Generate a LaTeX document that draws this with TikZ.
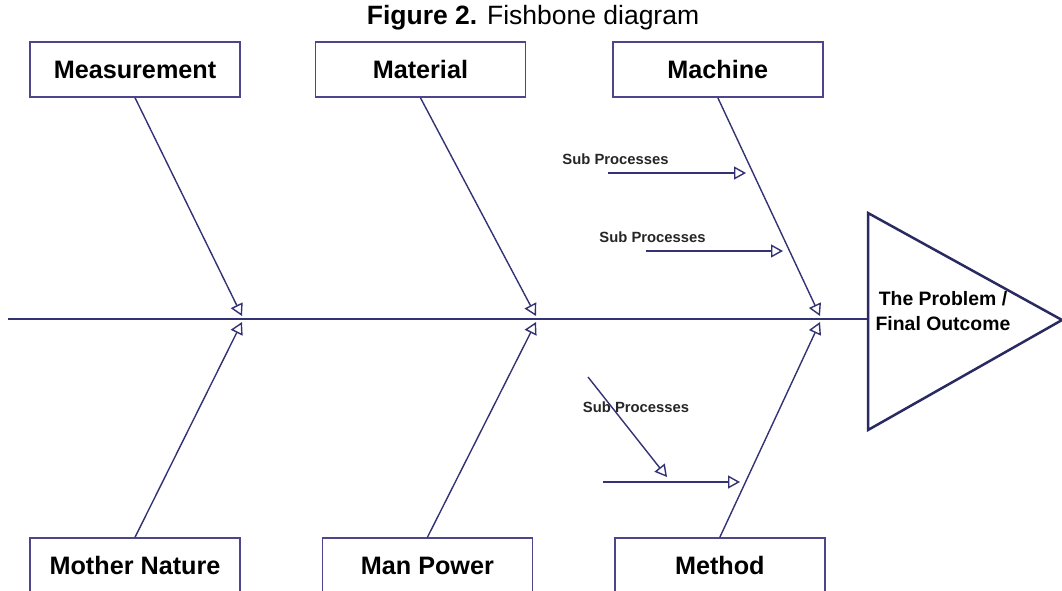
\documentclass[tikz,border=0pt]{standalone}
\usepackage{fontspec}
\setmainfont{Liberation Sans}
\usetikzlibrary{arrows.meta,positioning}
\definecolor{bone}{RGB}{50,50,116}
\definecolor{boxline}{RGB}{78,70,140}
\tikzstyle{line} = [draw=bone, line width=1.4pt, -{Triangle[open,length=12pt,width=13pt,line width=1.4pt]}]
\tikzstyle{spine} = [draw=bone, line width=1.6pt]
\tikzstyle{cause} = [rectangle, draw=boxline, line width=1.4pt, minimum width=210pt, minimum height=55pt, text centered, font=\fontsize{25.2}{25}\selectfont\bfseries]
\tikzstyle{sub} = [text=black!85, font=\fontsize{14.8}{15}\selectfont\bfseries]
\tikzstyle{effect} = [draw=bone!85!black, line width=2.5pt, line join=miter]

\begin{document}
\begin{tikzpicture}[x=1pt, y=-1pt]
			\useasboundingbox (0,0) rectangle (1062,590);
			\node [font=\fontsize{26.5}{26}\selectfont] (title) at (533,18) {\textbf{Figure 2.} Fishbone diagram};
			
			\node [cause] (measure) at (135,69.5) {Measurement};
			\node [cause, right=74pt of measure] (material) {Material};
			\node [cause, right=86pt of material] (machine) {Machine};
			\node [cause] (nature) at (135,565.5) {Mother Nature};
			\node [cause, right=81pt of nature] (manpower) {Man Power};
			\node [cause, right=81pt of manpower] (method) {Method};
			
			\coordinate (tail) at (8,319);
			\coordinate (head) at (868,319);
			\coordinate (top) at (868,213);
			\coordinate (tip) at (1062,320);
			\coordinate (bottom) at (868,430);
			\path [spine] (tail) -- (head);
			\path [effect] (top) -- (tip) -- (bottom) -- cycle;
			\node [align=center, font=\fontsize{19.4}{25}\selectfont\bfseries] (problem) at (943,311.5) {The Problem /\\Final Outcome};
			
			\coordinate (e1) at (242,316);
			\coordinate (e2) at (536,316);
			\coordinate (e3) at (820,316);
			\coordinate (f1) at (242,322);
			\coordinate (f2) at (536,322);
			\coordinate (f3) at (820,322);
			\path [line] (measure.south) -- (e1);
			\path [line] (material.south) -- (e2);
			\path [line] (machine.south) -- (e3);
			\path [line] (nature.north) -- (f1);
			\path [line] (manpower.north) -- (f2);
			\path [line] (method.north) -- (f3);
			
			\node [sub] (sp1) at (615.5,159) {Sub Processes};
			\coordinate (sp1s) at (608,173);
			\coordinate (sp1e) at (746,173);
			\path [line] (sp1s) -- (sp1e);
			\node [sub] (sp2) at (652.5,237) {Sub Processes};
			\coordinate (sp2s) at (646,251);
			\coordinate (sp2e) at (783,251);
			\path [line] (sp2s) -- (sp2e);
			\node [sub] (sp3) at (636,407) {Sub Processes};
			\coordinate (sp3a) at (588,377);
			\coordinate (sp3b) at (667,477);
			\coordinate (sp3s) at (603,482);
			\coordinate (sp3e) at (740,482);
			\path [line] (sp3a) -- (sp3b);
			\path [line] (sp3s) -- (sp3e);
		\end{tikzpicture}
\end{document}
